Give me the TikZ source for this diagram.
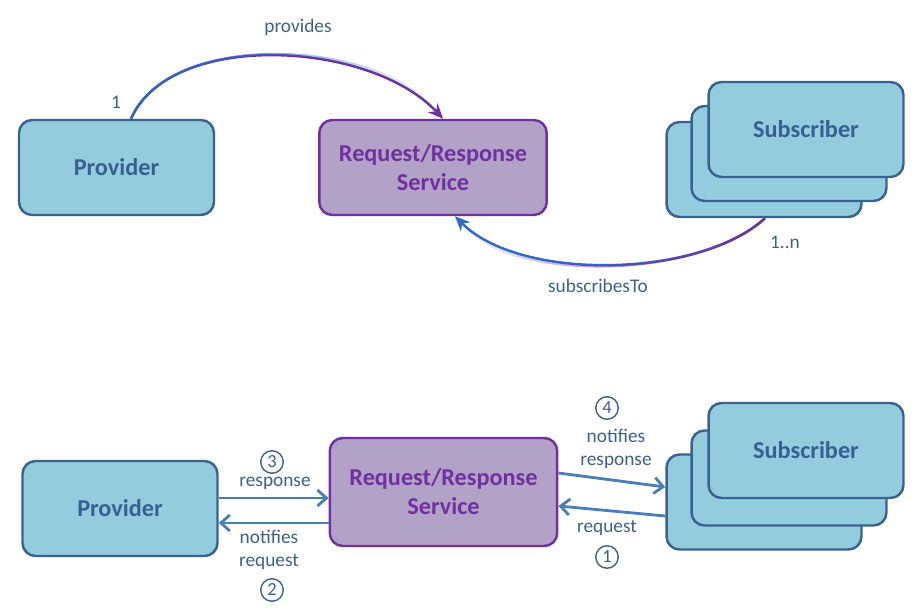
\documentclass[tikz,border=0pt]{standalone}
\usepackage{fontspec}
\setmainfont{Carlito}
\usetikzlibrary{arrows.meta,fadings}
\definecolor{boxfill}{HTML}{93CDDD}
\definecolor{boxline}{HTML}{3A6291}
\definecolor{boxtext}{HTML}{366092}
\definecolor{svcfill}{HTML}{B2A2C7}
\definecolor{svcline}{HTML}{7030A0}
\definecolor{flowblue}{HTML}{4A7EBB}
\definecolor{curveblue}{HTML}{2E6BC6}
\definecolor{labeltext}{HTML}{3F5F8F}
\tikzfading[name=bluetoright, left color=transparent!0, right color=transparent!100]
\tikzfading[name=bluetoleft, left color=transparent!100, right color=transparent!0]

\begin{document}
\begin{tikzpicture}[
    x=0.02cm, y=-0.02cm,
    actor/.style={draw=boxline, line width=1.4pt, fill=boxfill, rounded corners=2.6mm, minimum width=3.9cm, minimum height=1.9cm, font=\fontsize{13.8}{16}\selectfont\bfseries, text=boxtext},
    service/.style={draw=svcline, line width=1.4pt, fill=svcfill, rounded corners=2.6mm, minimum width=4.55cm, minimum height=1.9cm, align=center, font=\fontsize{13.8}{16.5}\selectfont\bfseries, text=svcline},
    lbl/.style={font=\fontsize{11}{13.5}\selectfont, text=labeltext, align=center, inner sep=1pt},
    stepnum/.style={circle, draw=labeltext, line width=0.8pt, inner sep=0pt, minimum size=0.45cm, font=\fontsize{10.5}{12}\selectfont, text=labeltext},
    flow/.style={-{Straight Barb[length=1.8mm, width=3.2mm]}, draw=flowblue, line width=1.6pt},
    curve/.style={line width=1.4pt}
]
    \useasboundingbox (0,0) rectangle (921,615);

    % Top: structure
    \node[actor] (prov1) at (116.5,167.5) {Provider};
    \node[service] (svc1) at (433,167.5) {Request/Response\\Service};
    \node[actor] (subc1) at (764,169.5) {};
    \node[actor] (subb1) at (789,153.5) {};
    \node[actor] (suba1) at (806,129.5) {Subscriber};

    % provides
    \draw[curve, svcline, -{Stealth[length=3mm, width=2.6mm]}] (prov1.north -| 131,0) .. controls (170,30) and (370,40) .. (svc1.north -| 443,0);
    \draw[curve, curveblue, path fading=bluetoright, shorten >=4mm] (prov1.north -| 131,0) .. controls (170,30) and (370,40) .. (svc1.north -| 443,0);
    \node[lbl] (one) at (116,102) {1};
    \node[lbl] (provides) at (298,27) {provides};

    % subscribesTo
    \draw[curve, curveblue, -{Stealth[length=3mm, width=2.6mm]}] (subc1.south -| 765,0) .. controls (700,278) and (520,282) .. (svc1.south -| 455,0);
    \draw[curve, svcline, path fading=bluetoleft, shorten >=4mm] (subc1.south -| 765,0) .. controls (700,278) and (520,282) .. (svc1.south -| 455,0);
    \node[lbl] (many) at (785,242) {1..n};
    \node[lbl] (subscribes) at (598,286) {subscribesTo};

    % Bottom: interaction
    \node[actor] (prov2) at (120,508.5) {Provider};
    \node[service, minimum height=2.16cm] (svc2) at (443.5,492) {Request/Response\\Service};
    \node[actor] (subc2) at (764,502) {};
    \node[actor] (subb2) at (789,478) {};
    \node[actor] (suba2) at (806,450.5) {Subscriber};

    \draw[flow] ([yshift=2.1mm]prov2.east) -- ([yshift=2.1mm]prov2.east -| svc2.west);
    \draw[flow] ([yshift=-2.9mm]prov2.east -| svc2.west) -- ([yshift=-2.9mm]prov2.east);
    \draw[flow] ([yshift=3.8mm]svc2.east) -- ([yshift=3mm]subc2.west);
    \draw[flow] ([yshift=-2.8mm]subc2.west) -- ([yshift=-2.8mm]svc2.east);

    \node[stepnum] (s3) at (272,462) {3};
    \node[lbl] (resp) at (275,483) {response};
    \node[lbl] (notreq) at (269,550) {notifies\\request};
    \node[stepnum] (s2) at (272,590) {2};
    \node[stepnum] (s4) at (607,408) {4};
    \node[lbl] (notresp) at (616,449) {notifies\\response};
    \node[lbl] (req) at (607,528) {request};
    \node[stepnum] (s1) at (607,557) {1};
\end{tikzpicture}
\end{document}
